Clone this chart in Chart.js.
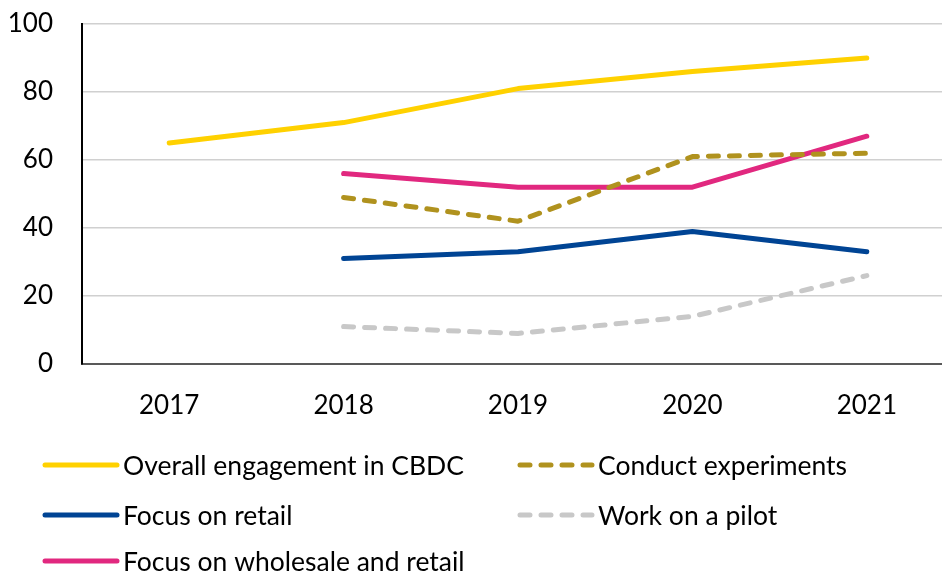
<!DOCTYPE html>
<html>
<head>
<meta charset="utf-8">
<script src="https://cdn.jsdelivr.net/npm/chart.js@4/dist/chart.umd.min.js"></script>
<style>
  html, body { margin: 0; padding: 0; background: #fff; }
  #wrap { width: 942px; height: 573px; overflow: hidden; position: relative; }
  #chart { display: block; }
</style>
</head>
<body>
<div id="wrap"><canvas id="chart" width="954" height="573"></canvas></div>
<script>
// years on the x axis
const years = ['2017', '2018', '2019', '2020', '2021'];
// share of central banks (%)
const overall = [65, 71, 81, 86, 90];
const experiments = [null, 49, 42, 61, 62];
const retail = [null, 31, 33, 39, 33];
const pilot = [null, 11, 9, 14, 26];
const wholesaleRetail = [null, 56, 52, 52, 67];
const yTicks = [0, 20, 40, 60, 80, 100];

const FONT = 'Lato, "Noto Sans", sans-serif';

// two-column legend drawn under the plot
const legendPlugin = {
  id: 'gridLegend',
  afterDraw(chart, args, opts) {
    const ctx = chart.ctx;
    ctx.save();
    chart.data.datasets.forEach((ds, i) => {
      const col = i % 2, row = Math.floor(i / 2);
      const x = opts.cols[col], y = opts.rows[row];
      ctx.beginPath();
      ctx.strokeStyle = ds.borderColor;
      ctx.lineWidth = ds.borderWidth;
      ctx.lineCap = 'round';
      ctx.setLineDash(ds.borderDash || []);
      ctx.moveTo(x, y);
      ctx.lineTo(x + opts.sample, y);
      ctx.stroke();
      ctx.setLineDash([]);
      ctx.fillStyle = '#000';
      ctx.font = '26.5px ' + FONT;
      ctx.textBaseline = 'middle';
      ctx.fillText(ds.label, x + opts.sample + 6, y + 1);
    });
    ctx.restore();
  }
};

function line(label, data, color, dash) {
  return {
    label, data,
    borderColor: color,
    backgroundColor: color,
    borderWidth: 5,
    borderDash: dash,
    borderCapStyle: 'round',
    borderJoinStyle: 'round',
    pointRadius: 0,
    tension: 0
  };
}

new Chart(document.getElementById('chart'), {
  type: 'line',
  data: {
    labels: years,
    datasets: [
      line('Overall engagement in CBDC', overall, '#FFD100'),
      line('Conduct experiments', experiments, '#B0921E', [10, 11]),
      line('Focus on retail', retail, '#004494'),
      line('Work on a pilot', pilot, '#C8C8C8', [10, 11]),
      line('Focus on wholesale and retail', wholesaleRetail, '#E1287F')
    ]
  },
  options: {
    responsive: false,
    animation: false,
    layout: { padding: { top: 24, right: 0, bottom: 149, left: 0 } },
    plugins: {
      legend: { display: false },
      tooltip: { enabled: false },
      gridLegend: { cols: [45, 520], rows: [465, 515, 561], sample: 72 }
    },
    scales: {
      x: {
        offset: true,
        grid: { display: false, drawTicks: false },
        border: { color: '#595959', width: 2 },
        ticks: { color: '#000', font: { family: FONT, size: 26 }, padding: 26 },
        afterFit(s) { s.height = 60; }
      },
      y: {
        min: 0, max: 100,
        afterBuildTicks(s) { s.ticks = yTicks.map(v => ({ value: v })); },
        grid: { color: '#D0D0D0', lineWidth: 1.5, drawTicks: false },
        border: { color: '#000', width: 2 },
        ticks: { color: '#000', font: { family: FONT, size: 26 }, padding: 29 },
        afterFit(s) { s.width = 82; s.paddingTop = 0; s.paddingBottom = 0; }
      }
    }
  },
  plugins: [legendPlugin]
});
</script>
</body>
</html>
